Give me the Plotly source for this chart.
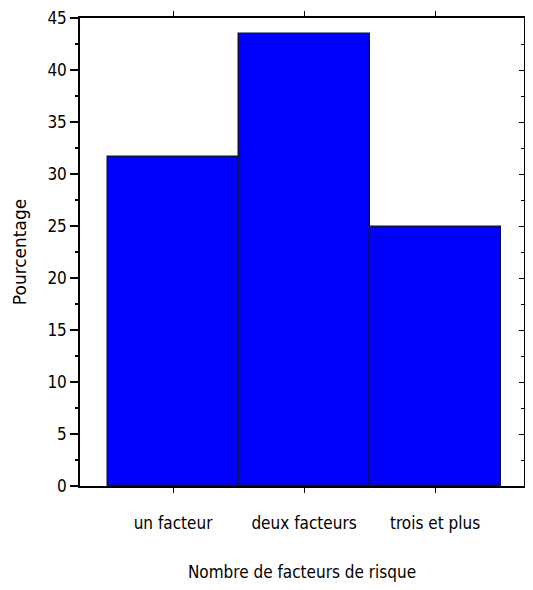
import plotly.graph_objects as go

categories = ["un facteur", "deux facteurs", "trois et plus"]
values = [31.6, 43.5, 24.9]
y_ticks = [0, 5, 10, 15, 20, 25, 30, 35, 40, 45]

narrow = "Liberation Sans Narrow, Arial Narrow, DejaVu Sans Condensed, sans-serif"

fig = go.Figure()
fig.add_trace(go.Bar(
    x=categories, y=values,
    marker=dict(color="#0000FF", line=dict(color="#10104a", width=1.5)),
    showlegend=False, hoverinfo="x+y",
))
fig.add_trace(go.Scatter(x=categories, y=values, yaxis="y2", mode="markers",
                         marker=dict(opacity=0), showlegend=False, hoverinfo="skip"))

fig.update_layout(
    width=533, height=590,
    margin=dict(l=72, r=17, t=10, b=112, autoexpand=False),
    paper_bgcolor="white", plot_bgcolor="white",
    bargap=0,
    xaxis=dict(
        range=[-0.71, 2.679], automargin=False,
        showline=True, linecolor="black", linewidth=1.5,
        mirror="ticks", ticks="outside", ticklen=5, tickcolor="black",
        ticklabelstandoff=16,
        tickfont=dict(family=narrow, size=17, color="black"),
        title=dict(text="Nombre de facteurs de risque",
                   font=dict(family=narrow, size=17, color="black"), standoff=34),
        showgrid=False, zeroline=False,
    ),
    yaxis=dict(
        range=[0, 45], automargin=False,
        tickvals=y_ticks, ticklabeloverflow="allow",
        showline=True, linecolor="black", linewidth=1.5,
        ticks="outside", ticklen=8, tickcolor="black", tickwidth=1.5,
        minor=dict(dtick=2.5, tick0=0, ticks="outside", ticklen=3, tickcolor="black", showgrid=False),
        tickfont=dict(family=narrow, size=17, color="black"),
        title=dict(text="Pourcentage",
                   font=dict(family="DejaVu Sans, sans-serif", size=17, color="black"),
                   standoff=16),
        showgrid=False, zeroline=False,
    ),
    yaxis2=dict(
        matches="y", overlaying="y", side="right", anchor="x", automargin=False,
        tickvals=y_ticks,
        showline=True, linecolor="black", linewidth=1.5,
        ticks="inside", ticklen=5, tickcolor="black",
        minor=dict(dtick=2.5, tick0=0, ticks="inside", ticklen=3, tickcolor="black", showgrid=False),
        showticklabels=False, showgrid=False, zeroline=False,
    ),
)

fig.write_html("out.html")
